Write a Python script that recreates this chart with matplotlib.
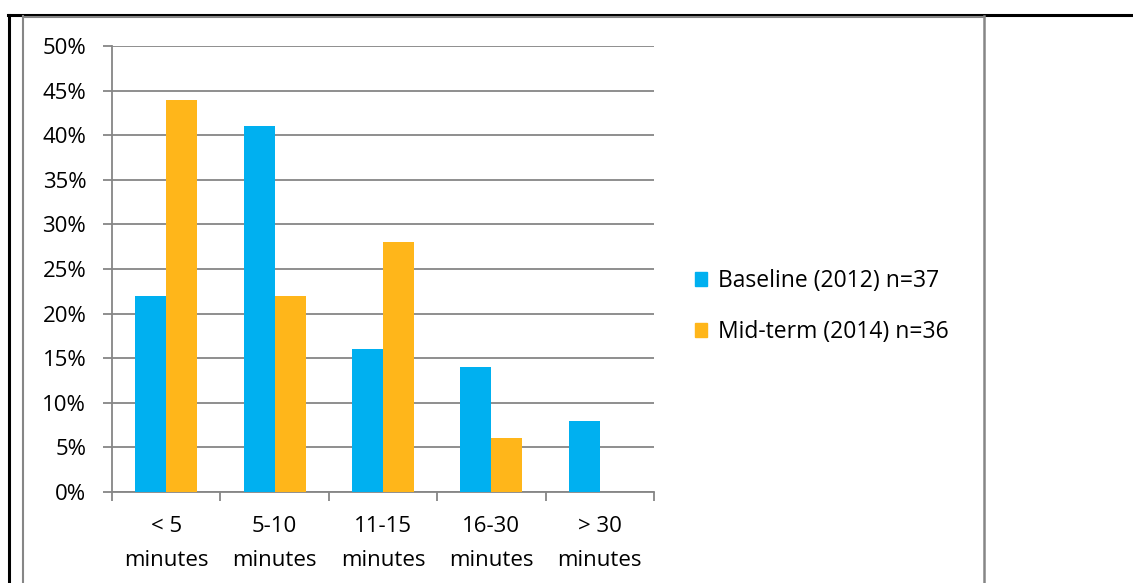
import matplotlib.pyplot as plt
import numpy as np
from matplotlib.lines import Line2D
from matplotlib.patches import Rectangle

plt.rcParams['font.family'] = ['Open Sans', 'DejaVu Sans']

# --- Datos ---
categorias = ['< 5\nminutes', '5-10\nminutes', '11-15\nminutes', '16-30\nminutes', '> 30\nminutes']
baseline = [0.22, 0.41, 0.16, 0.14, 0.08]
midterm = [0.44, 0.22, 0.28, 0.06, 0.0]
etiquetas = ['Baseline (2012) n=37', 'Mid-term (2014) n=36']
colores = ['#00B0F0', '#FFB61A']

W, H = 1133, 583
fig = plt.figure(figsize=(W / 100, H / 100), dpi=100)

# marco de la tabla y del gráfico
fig.add_artist(Line2D([8 / W, 1], [1 - 15 / H, 1 - 15 / H], color='black', lw=2.2))
fig.add_artist(Line2D([9 / W, 9 / W], [0, 1 - 15 / H], color='black', lw=2.2))
fig.add_artist(Line2D([23 / W, 23 / W], [0, 1 - 16 / H], color='#868686', lw=1.5))
fig.add_artist(Line2D([984 / W, 984 / W], [0, 1 - 16 / H], color='#868686', lw=1.8))
fig.add_artist(Line2D([23 / W, 984 / W], [1 - 16.5 / H, 1 - 16.5 / H], color='#868686', lw=1.5))

ax = fig.add_axes([112 / W, (H - 492) / H, (654 - 112) / W, (492 - 46) / H])

x = np.arange(len(categorias))
ancho = 0.286
ax.bar(x - ancho / 2, baseline, ancho, color=colores[0], label=etiquetas[0], zorder=3)
ax.bar(x + ancho / 2, midterm, ancho, color=colores[1], label=etiquetas[1], zorder=3)

ax.set_xlim(-0.5, len(categorias) - 0.5)
ax.set_ylim(0, 0.5)
yt = np.arange(0, 0.51, 0.05)
ax.set_yticks(yt)
ax.set_yticklabels([f'{int(round(v * 100))}%' for v in yt], fontsize=16)
ax.yaxis.grid(True, color='#868686', lw=1.3, zorder=0)
ax.tick_params(axis='y', length=6.5, width=1.3, color='#868686', pad=12)

ax.set_xticks(np.arange(-0.5, len(categorias), 1.0))
ax.set_xticklabels([])
ax.set_xticks(x, minor=True)
ax.set_xticklabels(categorias, minor=True, fontsize=16, linespacing=1.85)
ax.tick_params(axis='x', which='major', length=6.5, width=1.3, color='#868686')
ax.tick_params(axis='x', which='minor', length=0, pad=17)

for lado in ['top', 'right']:
    ax.spines[lado].set_visible(False)
for lado in ['left', 'bottom']:
    ax.spines[lado].set_color('#868686')
    ax.spines[lado].set_linewidth(1.3)

fig.legend(handles=[Rectangle((0, 0), 1, 1, color=c) for c in colores], labels=etiquetas,
           loc='center left', bbox_to_anchor=(674 / W, 1 - 306.5 / H), frameon=False,
           fontsize=16.5, handlelength=0.55, handleheight=0.55, handletextpad=0.45,
           labelspacing=1.2)

fig.savefig('out.png', dpi=100)
